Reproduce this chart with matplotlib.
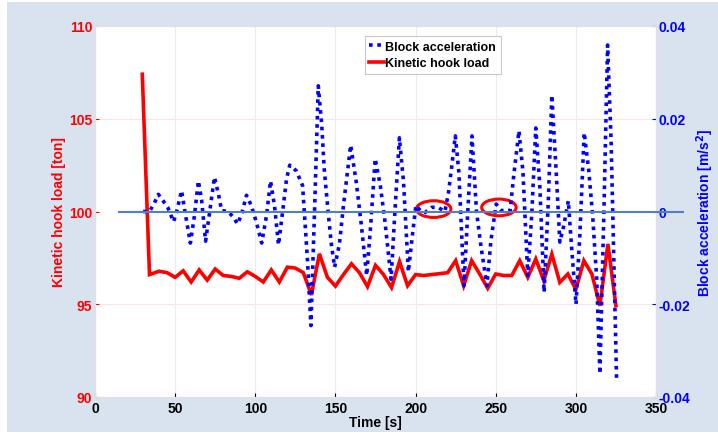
# Kinetic hook load vs block acceleration
import matplotlib.pyplot as plt
from matplotlib.patches import Ellipse, Rectangle

plt.rcParams['font.family'] = ['Liberation Sans', 'DejaVu Sans']
plt.rcParams['font.weight'] = 'bold'

# hook load [ton], about one sample every 5 s
load_t = [29.5, 34, 40, 45, 50, 55, 60, 65, 70, 75, 80, 85, 90, 95, 100, 105, 110, 115, 120,
          125, 130, 135, 140, 145, 150, 155, 160, 165, 170, 175, 180, 185, 190, 195, 200,
          205, 210, 215, 220, 225, 230, 235, 240, 245, 250, 255, 260, 265, 270, 275, 280,
          285, 290, 295, 300, 305, 310, 315, 320, 325]
load = [107.4, 96.6, 96.78, 96.7, 96.45, 96.8, 96.2, 96.85, 96.3, 96.9, 96.55, 96.5, 96.4,
        96.75, 96.5, 96.2, 96.85, 96.2, 97.0, 96.95, 96.7, 95.5, 97.72, 96.45, 95.98, 96.6,
        97.18, 96.7, 95.95, 97.1, 96.6, 95.9, 97.3, 96.0, 96.6, 96.55, 96.6, 96.65, 96.7,
        97.35, 96.0, 97.35, 96.63, 95.86, 96.63, 96.55, 96.55, 97.35, 96.45, 97.44, 96.27,
        97.7, 96.18, 96.63, 95.8, 97.35, 96.63, 94.92, 98.25, 94.92]

# block acceleration [m/s2]
acc_t = [30, 34, 37, 39.5, 42.5, 45.5, 49, 51, 54, 56, 59.5, 62, 64.5, 66.5, 69, 71.5, 74.5,
         77, 79, 83, 86, 89, 91.5, 94.5, 97.5, 101, 104, 107, 109.5, 112, 114.5, 117, 119.5,
         121.5, 125.5, 129.5, 132.5, 134.7, 137.2, 139.3, 141.5, 143, 145.5, 147.5, 149.5,
         152.5, 155, 159.5, 163, 166, 169.5, 172, 174.8, 178, 181, 184.7, 187, 189.9, 192.5,
         195.5, 198, 200.2, 203, 206, 210, 214, 218.3, 220.5, 222.5, 224.8, 227, 230.2,
         232.5, 235.2, 238, 241, 244.5, 247, 250.3, 253.5, 257, 259, 261, 264.5, 267, 270,
         272.5, 275, 277.5, 280.2, 282.8, 285, 287.5, 290, 292.5, 295.3, 297.5, 300.1, 302.5,
         305.2, 308, 310.5, 313, 315, 317.5, 319.8, 322, 325.4]
acc = [0.0, 0.0, 0.0018, 0.0037, 0.0023, 0.0008, -0.0022, 0.0, 0.0045, 0.0002, -0.0068,
       -0.001, 0.0066, 0.0025, -0.0064, -0.0002, 0.0074, 0.0038, 0.0002, 0.0, -0.0011,
       -0.0027, -0.0005, 0.0035, 0.0013, -0.0027, -0.0068, -0.0009, 0.0066, 0.0012, -0.0072,
       -0.0002, 0.007, 0.0100, 0.0088, 0.0056, -0.0102, -0.0246, 0.0027, 0.0271, 0.0185,
       0.0092, -0.0003, -0.0072, -0.012, -0.007, 0.0013, 0.0143, 0.0063, -0.0024, -0.0138,
       -0.003, 0.0114, 0.0056, -0.0024, -0.0146, -0.0007, 0.0159, 0.0063, -0.0130, -0.0052,
       0.0013, 0.0002, -0.0002, 0.0009, 0.0009, 0.0, 0.004, 0.0095, 0.0163, 0.0085, -0.016,
       -0.0005, 0.0163, 0.0, -0.0080, -0.016, -0.0063, 0.0016, 0.0002, 0.0002, 0.0002,
       0.007, 0.0174, 0.0085, -0.0138, -0.0005, 0.018, 0.0055, -0.0174, 0.002, 0.0251,
       0.010, -0.0066, -0.003, 0.0023, -0.0085, -0.020, -0.005, 0.017, 0.009, -0.001,
       -0.0145, -0.0350, 0.0, 0.0359, 0.0150, -0.0361]

zero_line_t = [15, 367]
zero_line = [0, 0]

# circled spots (centre time, centre load)
marks_t = [211.3, 252]
marks_y = [100.13, 100.22]

bg = '#d9e3ef'
fig = plt.figure(figsize=(7.18, 4.35), dpi=100, facecolor='white')
fig.patches.append(Rectangle((7 / 718, 2 / 435), 1, 430 / 435, transform=fig.transFigure,
                             facecolor=bg, edgecolor='none', zorder=-10))
ax = fig.add_axes([95 / 718, 37 / 435, 561 / 718, 371 / 435])
ax.set_facecolor('white')
ax2 = ax.twinx()

l_red, = ax.plot(load_t, load, color='#ff0000', lw=2.6, solid_joinstyle='miter',
                 label='Kinetic hook load')
for cx, cy in zip(marks_t, marks_y):
    ax.add_patch(Ellipse((cx, cy), 21.5, 0.9, fill=False, edgecolor='#ff0000', lw=2.2, zorder=5))

l_blue, = ax2.plot(acc_t, acc, color='#0000ff', lw=2.6, linestyle=(0, (1, 1.3)),
                   dash_capstyle='butt', label='Block acceleration')
ax2.plot(zero_line_t, zero_line, color='#4f81bd', lw=1.5, clip_on=False, zorder=4)

ax.set_xlim(0, 350)
ax.set_ylim(90, 110)
ax2.set_ylim(-0.04, 0.04)
ax.set_xticks(range(0, 351, 50))
ax.set_yticks([90, 95, 100, 105, 110])
ax2.set_yticks([-0.04, -0.02, 0, 0.02, 0.04])
ax2.set_yticklabels(['-0.04', '-0.02', '0', '0.02', '0.04'])

ax.grid(axis='x', color='#ececec', lw=0.8)
for yv in [95, 105]:
    ax.axhline(yv, color='#fbe3e3', lw=0.8, zorder=0)

for a in (ax, ax2):
    for s in a.spines.values():
        s.set_color('#e6dde6')
        s.set_linewidth(0.8)

ax.tick_params(axis='y', colors='#ff0000', labelsize=10, length=3, pad=2, direction='in')
ax.tick_params(axis='x', colors='black', labelsize=10, length=3, pad=3, direction='in')
ax2.tick_params(axis='y', colors='#0000ff', labelsize=10, length=3, pad=2, direction='in')

ax.set_xlabel('Time [s]', fontsize=10, fontweight='bold', labelpad=0)
ax.set_ylabel('Kinetic hook load [ton]', fontsize=10, fontweight='bold', color='#ff0000',
              labelpad=2)
ax2.set_ylabel('Block acceleration [m/s$^2$]', fontsize=10, fontweight='bold',
               color='#0000ff', labelpad=3)

leg = ax2.legend(handles=[l_blue, l_red], loc='upper left', bbox_to_anchor=(0.481, 0.972),
                 fontsize=9, frameon=True, fancybox=False, handlelength=1.2,
                 handletextpad=0.1, borderpad=0.35, labelspacing=0.35, borderaxespad=0)
leg.get_frame().set_edgecolor('#bbbbbb')
leg.get_frame().set_linewidth(0.8)
for t in leg.get_texts():
    t.set_fontweight('bold')

fig.savefig('out.png', dpi=100, facecolor=fig.get_facecolor())
